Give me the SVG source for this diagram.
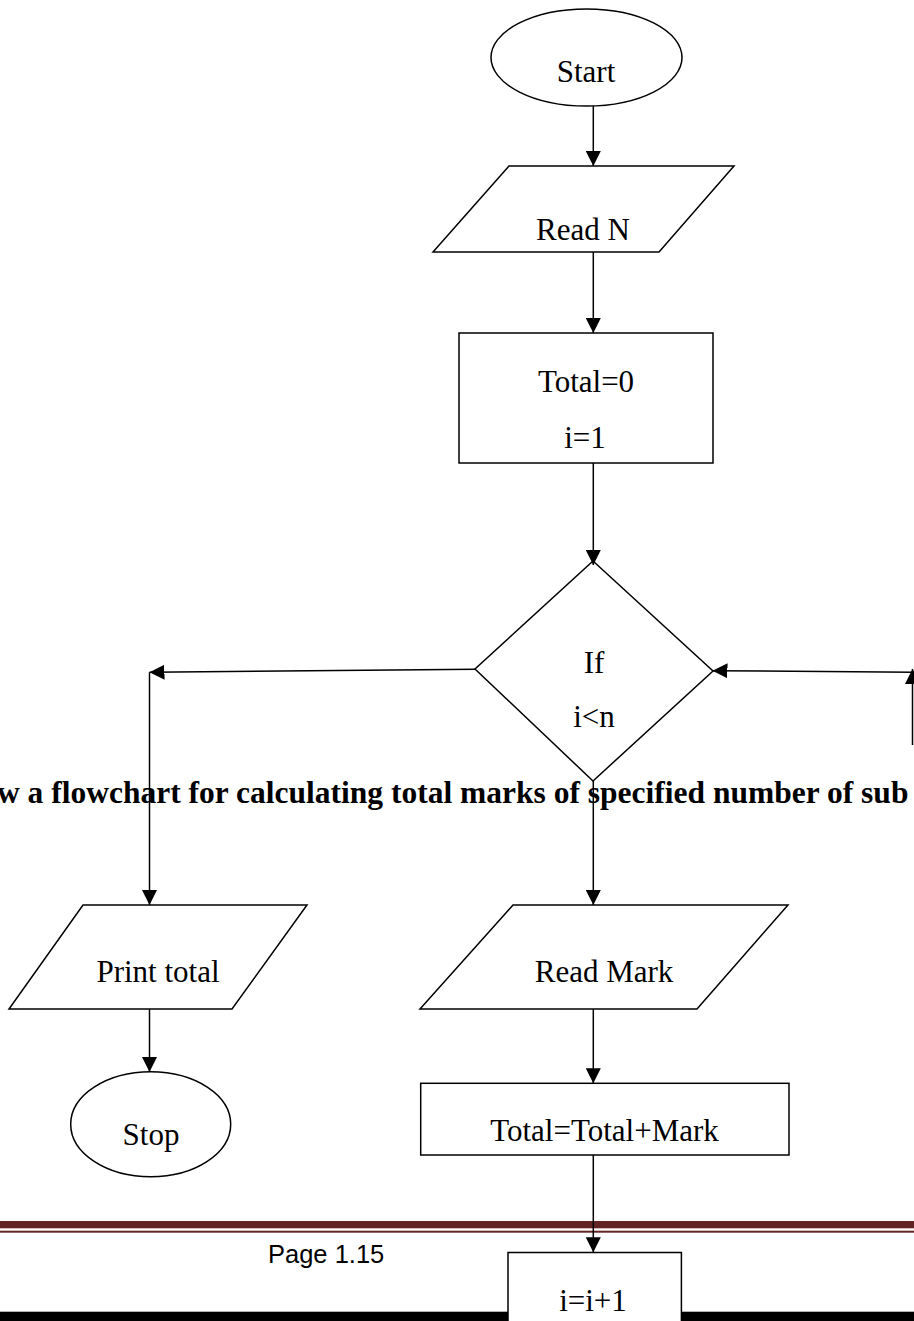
<svg xmlns="http://www.w3.org/2000/svg" width="914" height="1321" viewBox="0 0 914 1321">
  <style>
    .shape { fill: #ffffff; stroke: #000000; stroke-width: 1.5; }
    .conn { fill: none; stroke: #000000; stroke-width: 1.5; }
    .lbl { font-family: "Liberation Serif", "Times New Roman", serif; font-size: 31px; fill: #000000; text-anchor: middle; }
    .head { font-family: "Liberation Serif", "Times New Roman", serif; font-size: 31.5px; font-weight: bold; fill: #000000; }
    .page { font-family: "Liberation Sans", Arial, sans-serif; font-size: 25.5px; fill: #000000; }
  </style>
  <defs>
    <marker id="arrow" markerUnits="userSpaceOnUse" markerWidth="15" markerHeight="15" refX="15" refY="7.5" orient="auto">
      <path d="M0,0 L15,7.5 L0,15 z" fill="#000000"/>
    </marker>
  </defs>

  <rect x="0" y="0" width="914" height="1321" fill="#ffffff"/>

  <!-- footer -->
  <g id="footer">
    <rect x="0" y="1221" width="914" height="7.3" fill="#632523"/>
    <rect x="0" y="1230.7" width="914" height="2" fill="#632523"/>
    <rect x="0" y="1311.7" width="914" height="9.3" fill="#000000"/>
    <text class="page" x="268" y="1263">Page 1.15</text>
  </g>

  <!-- heading -->
  <text class="head" x="-3" y="803">w a flowchart for calculating total marks of specified number of sub</text>

  <g id="start">
    <ellipse class="shape" cx="586.5" cy="57.5" rx="95.5" ry="48.5"/>
    <text class="lbl" x="586" y="82">Start</text>
  </g>

  <g id="readN">
    <polygon class="shape" points="509,166 734,166 659,252 433,252"/>
    <text class="lbl" x="583" y="240">Read N</text>
  </g>

  <g id="init">
    <rect class="shape" x="459" y="333" width="254" height="130"/>
    <text class="lbl" x="586" y="392">Total=0</text>
    <text class="lbl" x="585" y="448">i=1</text>
  </g>

  <g id="decision">
    <polygon class="shape" points="593,561 713,671 593,781 475,669"/>
    <text class="lbl" x="594" y="673">If</text>
    <text class="lbl" x="594" y="727">i&lt;n</text>
  </g>

  <g id="printTotal">
    <polygon class="shape" points="83,905 307,905 232,1009 9,1009"/>
    <text class="lbl" x="158" y="982">Print total</text>
  </g>

  <g id="stop">
    <ellipse class="shape" cx="150.7" cy="1124.2" rx="80" ry="52.5"/>
    <text class="lbl" x="151" y="1145">Stop</text>
  </g>

  <g id="readMark">
    <polygon class="shape" points="513,905 788,905 697,1009 420,1009"/>
    <text class="lbl" x="604" y="982">Read Mark</text>
  </g>

  <g id="addMark">
    <rect class="shape" x="420.7" y="1083.3" width="368.3" height="71.7"/>
    <text class="lbl" x="604.5" y="1141">Total=Total+Mark</text>
  </g>

  <g id="increment">
    <rect class="shape" x="508" y="1252.5" width="173.4" height="80"/>
    <text class="lbl" x="593" y="1311">i=i+1</text>
  </g>

  <g id="connectors">
    <line class="conn" x1="593.3" y1="106" x2="593.3" y2="166" marker-end="url(#arrow)"/>
    <line class="conn" x1="593.3" y1="252" x2="593.3" y2="333" marker-end="url(#arrow)"/>
    <line class="conn" x1="593.3" y1="463" x2="593.3" y2="565" marker-end="url(#arrow)"/>
    <line class="conn" x1="476" y1="669.3" x2="149.5" y2="672.3" marker-end="url(#arrow)"/>
    <line class="conn" x1="149.5" y1="672.3" x2="149.5" y2="905" marker-end="url(#arrow)"/>
    <line class="conn" x1="149.5" y1="1009" x2="149.5" y2="1072" marker-end="url(#arrow)"/>
    <line class="conn" x1="593.3" y1="781" x2="593.3" y2="905" marker-end="url(#arrow)"/>
    <line class="conn" x1="593.3" y1="1009" x2="593.3" y2="1083.3" marker-end="url(#arrow)"/>
    <line class="conn" x1="593.3" y1="1155" x2="593.3" y2="1252.3" marker-end="url(#arrow)"/>
    <line class="conn" x1="914" y1="672.3" x2="712.5" y2="670.7" marker-end="url(#arrow)"/>
    <line class="conn" x1="912.5" y1="745" x2="912.5" y2="669" marker-end="url(#arrow)"/>
  </g>
</svg>
